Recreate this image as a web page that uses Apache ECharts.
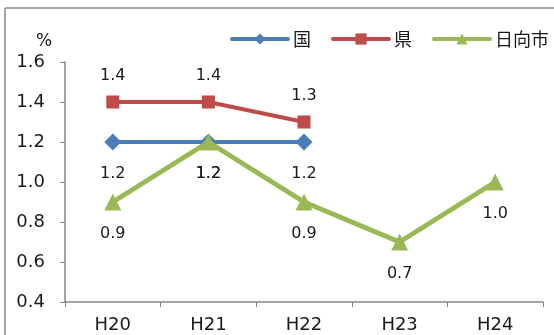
<!DOCTYPE html>
<html>
<head>
<meta charset="utf-8">
<script src="https://cdn.jsdelivr.net/npm/echarts@6/dist/echarts.min.js"></script>
<style>
  html, body { margin: 0; padding: 0; background: #fff; }
  #chart { width: 554px; height: 335px; }
</style>
</head>
<body>
<div id="chart"></div>
<script>
// Fiscal years
const categories = ['H20', 'H21', 'H22', 'H23', 'H24'];
// Rates (%) for the nation, prefecture and Hyuga city
const kuni = [1.2, 1.2, 1.2, null, null];
const ken = [1.4, 1.4, 1.3, null, null];
const hyuga = [0.9, 1.2, 0.9, 0.7, 1.0];
// Value axis ticks
const yMin = 0.4, yMax = 1.6, yStep = 0.2;

const NUM_FONT = '"DejaVu Sans", sans-serif';
const CJK_FONT = '"Noto Sans CJK JP", sans-serif';
const TXT = '#1a1a1a';
const AXIS = '#868686';

function labelCfg(pos, dist) {
  return {
    show: true,
    position: pos,
    distance: dist,
    color: TXT,
    fontFamily: NUM_FONT,
    fontSize: 16,
    formatter: p => p.value == null ? '' : Number(p.value).toFixed(1)
  };
}

const chart = echarts.init(document.getElementById('chart'), null, { renderer: 'canvas' });
chart.setOption({
  animation: false,
  backgroundColor: '#fff',
  textStyle: { fontFamily: NUM_FONT },
  grid: { left: 65, right: 11, top: 62, bottom: 33, containLabel: false },
  legend: {
    left: 230,
    top: 30,
    width: 340,
    padding: 0,
    itemWidth: 56,
    itemHeight: 14,
    itemGap: 20,
    lineStyle: { width: 4, cap: 'round' },
    textStyle: { fontFamily: CJK_FONT, fontSize: 18, color: TXT },
    data: ['国', '県', '日向市']
  },
  graphic: [
    { type: 'line', shape: { x1: 5, y1: 8, x2: 554, y2: 8 }, style: { stroke: '#a6a6a6', lineWidth: 2 } },
    { type: 'line', shape: { x1: 5, y1: 8, x2: 5, y2: 335 }, style: { stroke: '#a6a6a6', lineWidth: 2 } },
    { type: 'text', left: 36, top: 33, style: { text: '%', font: '17px ' + NUM_FONT, fill: TXT } }
  ],
  xAxis: {
    type: 'category',
    data: categories,
    boundaryGap: true,
    axisLine: { lineStyle: { color: AXIS, width: 1.5 } },
    axisTick: { show: true, length: 5, lineStyle: { color: AXIS } },
    axisLabel: { margin: 14, color: TXT, fontSize: 18, fontFamily: NUM_FONT }
  },
  yAxis: {
    type: 'value',
    min: yMin,
    max: yMax,
    interval: yStep,
    axisLine: { show: true, lineStyle: { color: AXIS, width: 1.5 } },
    axisTick: { show: true, length: 5, lineStyle: { color: AXIS } },
    splitLine: { show: false },
    axisLabel: { margin: 20, color: TXT, fontSize: 18, fontFamily: NUM_FONT, formatter: v => v.toFixed(1) }
  },
  series: [
    {
      name: '国', type: 'line', data: kuni,
      color: '#4A7EBB',
      symbol: 'diamond', symbolSize: 17,
      lineStyle: { width: 4, color: '#4A7EBB' },
      itemStyle: { color: '#4A7EBB' },
      label: labelCfg('bottom', 15),
      z: 3
    },
    {
      name: '県', type: 'line', data: ken,
      color: '#BE4B48',
      symbol: 'rect', symbolSize: 13,
      lineStyle: { width: 4, color: '#BE4B48' },
      itemStyle: { color: '#BE4B48' },
      label: labelCfg('top', 12),
      z: 3
    },
    {
      name: '日向市', type: 'line', data: hyuga,
      color: '#98B954',
      symbol: 'triangle', symbolSize: 17,
      lineStyle: { width: 5, color: '#98B954' },
      itemStyle: { color: '#98B954' },
      label: labelCfg('bottom', 15),
      z: 4
    }
  ]
});
</script>
</body>
</html>
